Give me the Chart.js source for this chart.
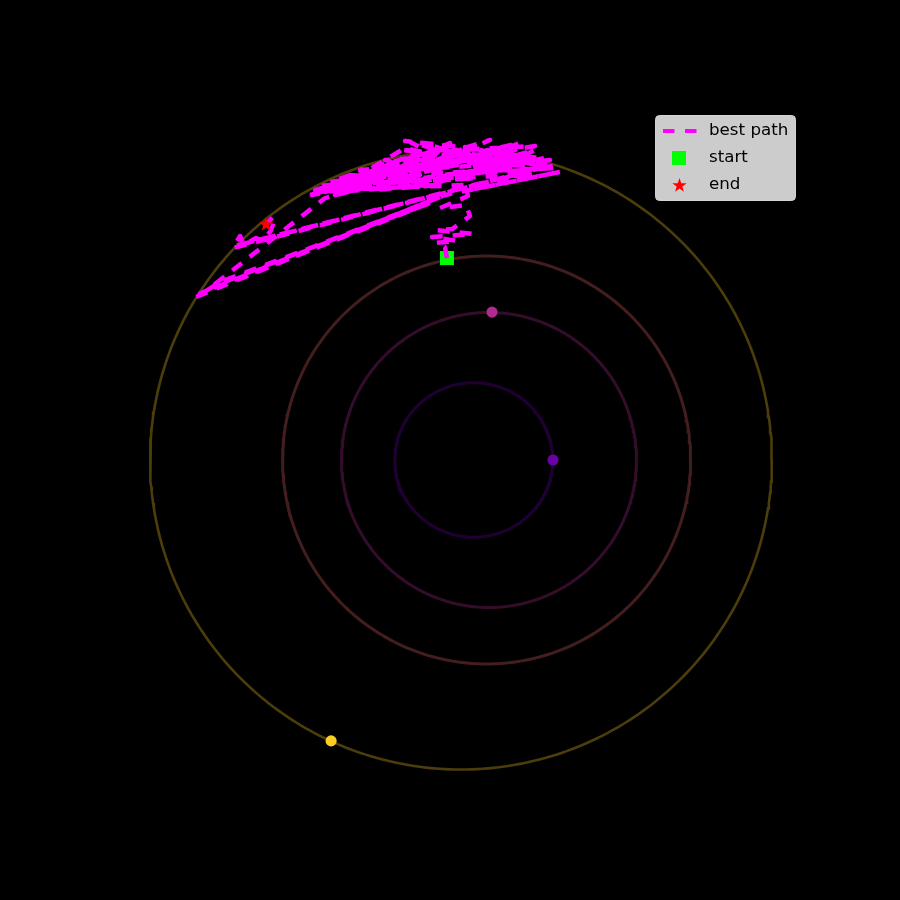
<!DOCTYPE html>
<html>
<head>
<meta charset="utf-8">
<script src="https://cdn.jsdelivr.net/npm/chart.js@4"></script>
<style>
  html, body { margin: 0; padding: 0; background: #000; }
  #wrap { width: 900px; height: 900px; }
</style>
</head>
<body>
<div id="wrap"><canvas id="c" width="900" height="900"></canvas></div>
<script>
// ---- data (AU, heliocentric) ----
const planetNames = ['Mercury', 'Venus', 'Earth', 'Mars'];
const orbitA = [0.387, 0.723, 1.0, 1.524];
const orbitE = [0.2056, 0.0068, 0.0167, 0.0934];
const planetColors = ['#6a00a8', '#b12a90', '#e16462', '#fcce25'];
const planetX = [0.309, 0.010, -0.211, -0.779];
const planetY = [0.000, 0.725, 0.990, -1.377];

const pathX = [-0.211, -0.221, -0.265, -0.162, -0.284, -0.083, -0.260, -0.186, -0.098, -0.118,
  -0.245, -0.108, -0.118,
  -0.784, -0.539, -0.686, -0.343, -0.466, -0.147, -0.294, 0.049, -0.098, 0.221,
  0.074, 0.294, -0.049, 0.147, -0.221, 0.000, -0.392, -0.196, -0.578, -0.319,
  -0.735, -0.441, -0.843, -0.613, -0.784, -0.368, -0.515, -0.098, -0.245, 0.123,
  -0.049, 0.270, -0.147, 0.098, -0.343, -0.074, -0.490, -0.662, -0.417, -0.270,
  -0.392, -0.172, -0.294, -0.025, 0.172, 0.025, 0.245, -0.123, 0.049, -0.245,
  -0.873, -0.441, -0.833, -0.343, -0.760, -0.490, -0.711, -0.294, -0.637, -0.392,
  -0.794, -0.245, -0.564, -0.686,
  -0.343, 0.196, -0.539, 0.123, -0.711, 0.000, -0.858,
  -0.098, -0.417, 0.049, -0.784, -0.172, 0.221, -0.343, -0.882, -0.245, 0.319,
  -0.490, -0.809, -0.049, 0.270, -0.245, -0.637, 0.098, -0.294, -0.760, -0.221,
  0.196, -0.098, 0.343, -0.221, -1.441, -1.353, -0.245, -1.422, -0.294, -1.348, -0.809, -0.098,
  -0.627, 0.147, -0.441, 0.319, -1.250, 0.245, -1.260, -1.225, -1.206, -1.147, -1.118, -1.078,
  -1.064, -1.059, -1.098];
const pathY = [0.990, 1.044, 1.064, 1.074, 1.093, 1.108, 1.127, 1.132, 1.196, 1.250,
  1.235, 1.294, 1.348,
  1.324, 1.431, 1.343, 1.471, 1.382, 1.520, 1.412, 1.529, 1.431, 1.520,
  1.446, 1.471, 1.480, 1.554, 1.471, 1.569, 1.446, 1.554, 1.382, 1.520,
  1.353, 1.471, 1.314, 1.422, 1.363, 1.422, 1.471, 1.495, 1.431, 1.495,
  1.520, 1.431, 1.397, 1.431, 1.363, 1.382, 1.358, 1.382, 1.529, 1.495,
  1.559, 1.495, 1.544, 1.461, 1.480, 1.520, 1.461, 1.534, 1.422, 1.520,
  1.299, 1.382, 1.343, 1.397, 1.299, 1.422, 1.324, 1.382, 1.348, 1.412,
  1.333, 1.348, 1.324, 1.397,
  1.373, 1.461, 1.412, 1.520, 1.373, 1.495, 1.324,
  1.529, 1.564, 1.510, 1.348, 1.520, 1.539, 1.446, 1.299, 1.471, 1.431,
  1.397, 1.314, 1.422, 1.480, 1.520, 1.422, 1.471, 1.348, 1.314, 1.382,
  1.397, 1.324, 1.412, 1.299, 0.799, 0.853, 1.289, 0.816, 1.260, 0.863, 1.284, 1.471,
  1.392, 1.485, 1.520, 1.446, 1.049, 1.431, 1.039, 1.098, 1.054, 1.088, 1.078, 1.118,
  1.152, 1.196, 1.157];

const startX = -0.211, startY = 0.990;
const endX = -1.098, endY = 1.157;

const legendLabels = ['best path', 'start', 'end'];

// ---- helpers ----
function rgba(hex, a) {
  const n = parseInt(hex.slice(1), 16);
  return `rgba(${(n >> 16) & 255},${(n >> 8) & 255},${n & 255},${a})`;
}
function orbitPoints(a, e) {
  const b = a * Math.sqrt(1 - e * e);
  const pts = [];
  for (let i = 0; i <= 360; i++) {
    const E = i * Math.PI / 180;
    pts.push({ x: a * (Math.cos(E) - e), y: b * Math.sin(E) });
  }
  return pts;
}
function starPath(ctx, cx, cy, R, r) {
  ctx.beginPath();
  for (let i = 0; i < 10; i++) {
    const ang = -Math.PI / 2 + i * Math.PI / 5;
    const rad = i % 2 === 0 ? R : r;
    const px = cx + rad * Math.cos(ang), py = cy + rad * Math.sin(ang);
    if (i === 0) ctx.moveTo(px, py); else ctx.lineTo(px, py);
  }
  ctx.closePath();
}
const starImg = document.createElement('canvas');
starImg.width = 16; starImg.height = 16;
(function () {
  const g = starImg.getContext('2d');
  starPath(g, 8, 8.6, 7.5, 3.0);
  g.fillStyle = '#ff0000';
  g.fill();
})();

// ---- datasets ----
const datasets = [];
planetNames.forEach((n, i) => {
  datasets.push({
    label: n + ' orbit',
    data: orbitPoints(orbitA[i], orbitE[i]),
    showLine: true,
    borderColor: rgba(planetColors[i], 0.3),
    borderWidth: i === 3 ? 2.6 : 3,
    pointRadius: 0,
    fill: false,
    order: 10
  });
});
planetNames.forEach((n, i) => {
  datasets.push({
    label: n,
    data: [{ x: planetX[i], y: planetY[i] }],
    pointStyle: 'circle',
    pointRadius: 5.6,
    backgroundColor: planetColors[i],
    borderColor: planetColors[i],
    borderWidth: 0,
    order: 8
  });
});
datasets.push({
  label: 'start',
  data: [{ x: startX, y: startY }],
  pointStyle: 'rect',
  pointRadius: 9.9,
  backgroundColor: '#00ff00',
  borderColor: '#00ff00',
  borderWidth: 0,
  order: 5
});
datasets.push({
  label: 'end',
  data: [{ x: endX, y: endY }],
  pointStyle: starImg,
  pointRadius: 8,
  backgroundColor: '#ff0000',
  borderColor: '#ff0000',
  order: 0
});
datasets.push({
  label: 'best path',
  data: pathX.map((x, i) => ({ x, y: pathY[i] })),
  showLine: true,
  borderColor: '#ff00ff',
  borderWidth: 4.5,
  borderDash: [12, 10],
  borderCapStyle: 'butt',
  borderJoinStyle: 'round',
  pointRadius: 0,
  fill: false,
  tension: 0,
  order: 1
});

const bgPlugin = {
  id: 'bg',
  beforeDraw(chart) {
    const ctx = chart.ctx;
    ctx.save();
    ctx.fillStyle = '#000';
    ctx.fillRect(0, 0, chart.width, chart.height);
    ctx.restore();
  }
};

const legendPlugin = {
  id: 'customLegend',
  afterDraw(chart) {
    const ctx = chart.ctx;
    const x0 = 655.5, y0 = 115.5, w = 140, h = 85, r = 4;
    ctx.save();
    ctx.beginPath();
    ctx.moveTo(x0 + r, y0);
    ctx.arcTo(x0 + w, y0, x0 + w, y0 + h, r);
    ctx.arcTo(x0 + w, y0 + h, x0, y0 + h, r);
    ctx.arcTo(x0, y0 + h, x0, y0, r);
    ctx.arcTo(x0, y0, x0 + w, y0, r);
    ctx.closePath();
    ctx.fillStyle = '#cccccc';
    ctx.fill();
    ctx.strokeStyle = '#d4d4d4';
    ctx.lineWidth = 1;
    ctx.stroke();

    const rows = [131, 158, 185];
    const dsByLabel = {};
    chart.data.datasets.forEach(d => { dsByLabel[d.label] = d; });
    legendLabels.forEach((lab, i) => {
      const y = rows[i];
      const d = dsByLabel[lab];
      if (lab === 'best path') {
        ctx.beginPath();
        ctx.setLineDash([11.5, 10.5]);
        ctx.lineCap = 'butt';
        ctx.strokeStyle = d.borderColor;
        ctx.lineWidth = 4;
        ctx.moveTo(663, y);
        ctx.lineTo(696.5, y);
        ctx.stroke();
        ctx.setLineDash([]);
      } else if (lab === 'start') {
        ctx.fillStyle = d.backgroundColor;
        ctx.fillRect(672, y - 7, 14, 14);
      } else {
        starPath(ctx, 679.5, y + 0.6, 7.5, 3.0);
        ctx.fillStyle = d.backgroundColor;
        ctx.fill();
      }
      ctx.fillStyle = '#000';
      ctx.font = '16.7px "DejaVu Sans"';
      ctx.textBaseline = 'middle';
      ctx.textAlign = 'left';
      ctx.fillText(lab, 709, y);
    });
    ctx.restore();
  }
};

new Chart(document.getElementById('c'), {
  type: 'scatter',
  data: { datasets },
  options: {
    responsive: false,
    animation: false,
    devicePixelRatio: 1,
    layout: { padding: 0, autoPadding: false },
    scales: {
      x: { type: 'linear', min: -2.40196, max: 2.00980, display: false },
      y: { type: 'linear', min: -2.15686, max: 2.25490, display: false }
    },
    plugins: {
      legend: { display: false },
      tooltip: { enabled: false }
    },
    elements: { line: { tension: 0 } }
  },
  plugins: [bgPlugin, legendPlugin]
});
</script>
</body>
</html>
